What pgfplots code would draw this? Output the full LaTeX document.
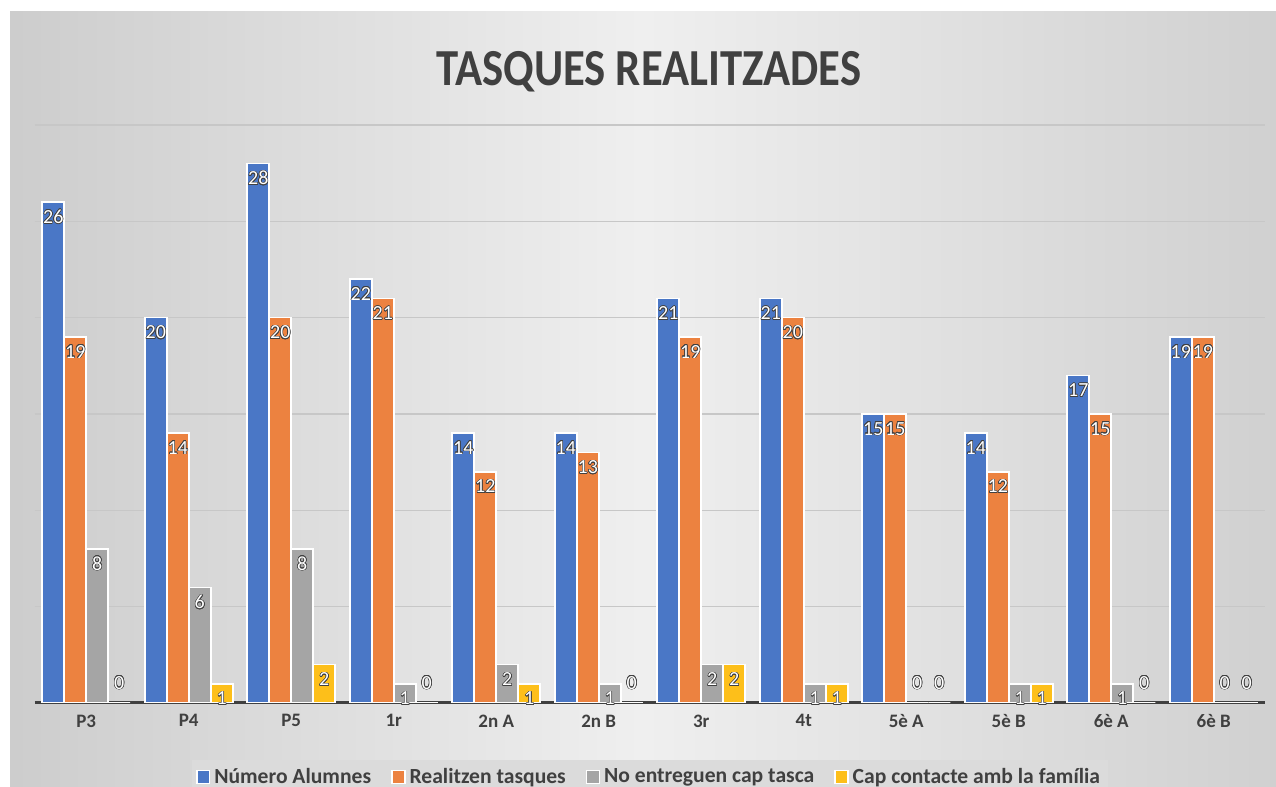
\documentclass[border=0pt]{standalone}
\usepackage{pgfplots}
\pgfplotsset{compat=1.18}
\usepackage{fontspec}
\setmainfont{Carlito}
\usepackage{contour}
\contourlength{0.3pt}
\definecolor{cBlue}{HTML}{4A77C6}
\definecolor{cOrange}{HTML}{EC8240}
\definecolor{cGray}{HTML}{A5A5A5}
\definecolor{cYellow}{HTML}{FDBF1A}
\definecolor{txt}{HTML}{404040}
\definecolor{bgA}{HTML}{BABABA}
\definecolor{bgB}{HTML}{C6C6C6}
\definecolor{bgC}{HTML}{EFEFEF}
\definecolor{bgD}{HTML}{CACACA}
\definecolor{bgE}{HTML}{B6B6B6}
\pgfdeclarehorizontalshading{bgsh}{100bp}{color(0bp)=(bgA); color(20bp)=(bgB); color(50bp)=(bgC); color(80bp)=(bgD); color(100bp)=(bgE)}
\begin{document}
\begin{tikzpicture}[x=1pt,y=1pt]
\fill[white] (0,0) rectangle (638,393.5);
\shade[shading=bgsh] (5,0) rectangle (638,387.5);
\useasboundingbox (0,0) rectangle (638,393.5);
\node[font=\bfseries\fontsize{26}{30}\selectfont, text=txt] at (324.5,357.5) {\scalebox{0.86}[1]{TASQUES REALITZADES}};
\begin{axis}[
  at={(17.5pt,42pt)}, anchor=south west,
  scale only axis, width=615pt, height=289pt,
  xmin=-0.5, xmax=11.5, ymin=0, ymax=30,
  ybar=0pt, bar width=11pt,
  /pgf/number format/assume math mode=true,
  axis x line*=bottom, axis y line*=left,
  x axis line style={draw=txt, line width=1.5pt},
  y axis line style={draw=none},
  xtick={0,...,11},
  xticklabels={P3,P4,P5,1r,2n A,2n B,3r,4t,5è A,5è B,6è A,6è B},
  xtick style={draw=none},
  xticklabel style={font=\bfseries\fontsize{9.5}{11}\selectfont, text=txt, yshift=2pt},
  ytick={5,10,...,30}, yticklabels={}, ytick style={draw=none},
  ymajorgrids, grid style={draw=black!22, line width=0.75pt},
  every axis plot/.append style={draw=white, line width=0.8pt},
  visualization depends on=rawy \as \rawy,
  nodes near coords={\contour{black!75}{\pgfmathprintnumber{\pgfplotspointmeta}}},
  nodes near coords style={font=\fontsize{10}{11}\selectfont, text=white, anchor=center, yshift={(\rawy==0)*17.5-7.5}},
  legend style={at={(0.5,-0.128)}, anchor=center, legend columns=4, draw=none, fill=white!86!black,
    font=\bfseries\fontsize{10.8}{12}\selectfont, text=txt, inner sep=2pt,
    /tikz/every even column/.append style={column sep=8pt}},
  legend image code/.code={\fill[#1] (0pt,-3.2pt) rectangle (6.4pt,3.2pt);},
]
\addplot[fill=cBlue] coordinates {(0,26) (1,20) (2,28) (3,22) (4,14) (5,14) (6,21) (7,21) (8,15) (9,14) (10,17) (11,19)};
\addplot[fill=cOrange] coordinates {(0,19) (1,14) (2,20) (3,21) (4,12) (5,13) (6,19) (7,20) (8,15) (9,12) (10,15) (11,19)};
\addplot[fill=cGray] coordinates {(0,8) (1,6) (2,8) (3,1) (4,2) (5,1) (6,2) (7,1) (8,0) (9,1) (10,1) (11,0)};
\addplot[fill=cYellow] coordinates {(0,0) (1,1) (2,2) (3,0) (4,1) (5,0) (6,2) (7,1) (8,0) (9,1) (10,0) (11,0)};
\legend{Número Alumnes, Realitzen tasques, No entreguen cap tasca, Cap contacte amb la família}
\end{axis}
\end{tikzpicture}
\end{document}
